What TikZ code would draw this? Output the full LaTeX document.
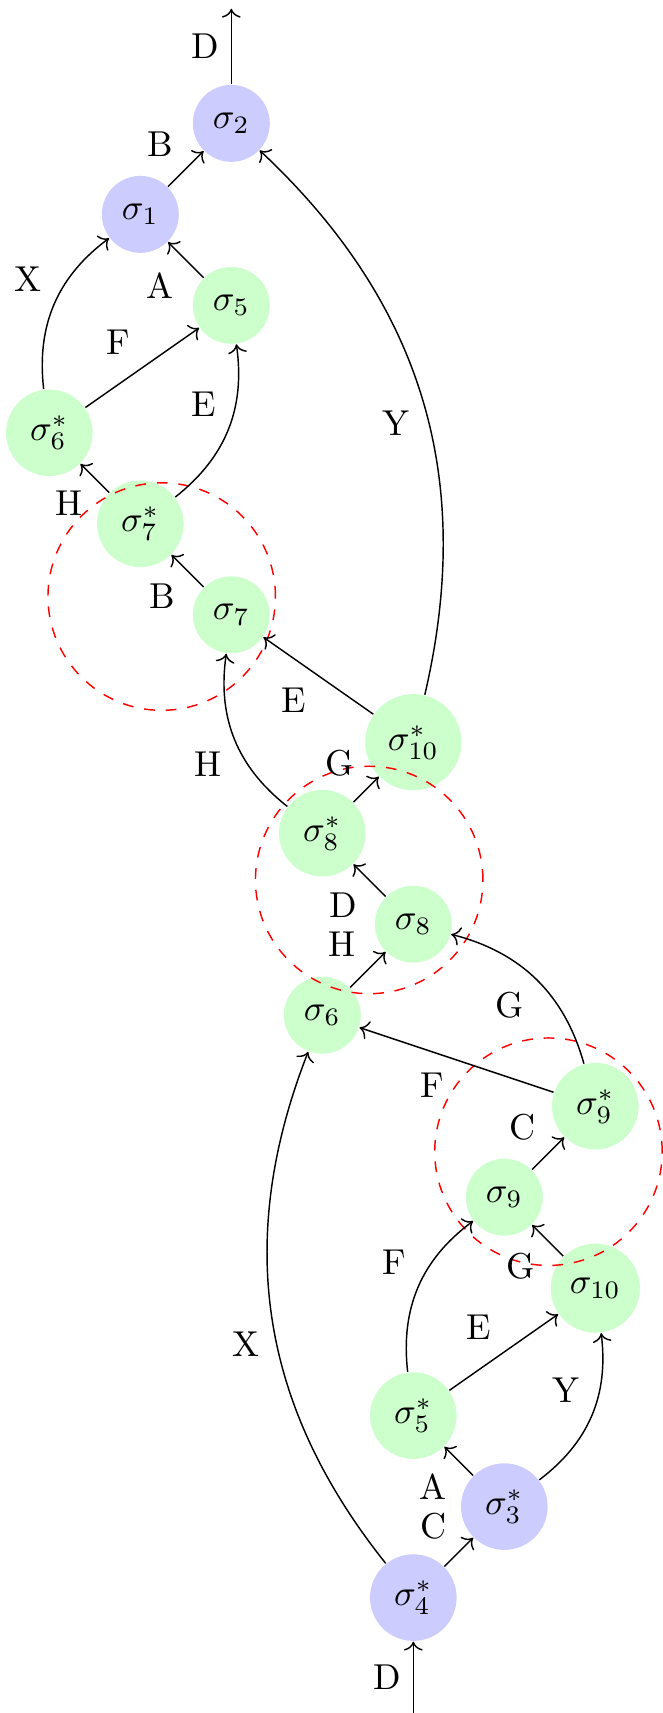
\documentclass[tikz,border=0pt]{standalone}
\usepackage{amsmath,amssymb}
\usepackage{tikz}
\usetikzlibrary{arrows.meta,positioning,calc}

\begin{document}
\begin{tikzpicture}[
    state/.style={circle, inner sep=3.5pt},
    bstate/.style={state, fill=blue!20},
    gstate/.style={state, fill=green!20},
    flow/.style={->},
    grp/.style={draw=red, dashed},
    x=0.8885cm, y=0.8885cm
]
\useasboundingbox (-4.542,-1.268) rectangle (2.733,17.556);

% --- States ---
\node[bstate] (s4s)  at (0,0)     {$\sigma_4^*$};
\node[bstate] (s3s)  at (1,1)     {$\sigma_3^*$};
\node[gstate] (s5s)  at (0,2)     {$\sigma_5^*$};
\node[gstate] (s10)  at (2,3.4)   {$\sigma_{10}$};
\node[gstate] (s9)   at (1,4.4)   {$\sigma_9$};
\node[gstate] (s9s)  at (2,5.4)   {$\sigma_9^*$};
\node[gstate] (s6)   at (-1,6.4)  {$\sigma_6$};
\node[gstate] (s8)   at (0,7.4)   {$\sigma_8$};
\node[gstate] (s8s)  at (-1,8.4)  {$\sigma_8^*$};
\node[gstate] (s10s) at (0,9.4)   {$\sigma_{10}^*$};
\node[gstate] (s7)   at (-2,10.8) {$\sigma_7$};
\node[gstate] (s7s)  at (-3,11.8) {$\sigma_7^*$};
\node[gstate] (s6s)  at (-4,12.8) {$\sigma_6^*$};
\node[gstate] (s5)   at (-2,14.2) {$\sigma_5$};
\node[bstate] (s1)   at (-3,15.2) {$\sigma_1$};
\node[bstate] (s2)   at (-2,16.2) {$\sigma_2$};

\coordinate (in)  at (0,-1.268);
\coordinate (out) at (-2,17.46);

% --- Groups ---
\draw[grp] (-2.765,11.0) circle (1.25);
\draw[grp] (-0.485,7.886) circle (1.25);
\draw[grp] (1.485,4.9) circle (1.25);

% --- Transitions ---
\draw[flow] (in) -- node[auto] {D} (s4s);
\draw[flow] (s4s) -- node[auto] {C} (s3s);
\draw[flow] (s3s) -- node[auto] {A} (s5s);
\draw[flow] (s3s) to[bend right] node[auto] {Y} (s10);
\draw[flow] (s5s) -- node[auto] {E} (s10);
\draw[flow] (s5s) to[bend left] node[auto] {F} (s9);
\draw[flow] (s10) -- node[auto] {G} (s9);
\draw[flow] (s9) -- node[auto] {C} (s9s);
\draw[flow] (s9s) -- node[auto] {F} (s6);
\draw[flow] (s9s) to[bend right] node[auto] {G} (s8);
\draw[flow] (s4s) to[bend left] node[auto] {X} (s6);
\draw[flow] (s6) -- node[auto] {H} (s8);
\draw[flow] (s8) -- node[auto] {D} (s8s);
\draw[flow] (s8s) -- node[auto] {G} (s10s);
\draw[flow] (s8s) to[bend left] node[auto] {H} (s7);
\draw[flow] (s10s) -- node[auto] {E} (s7);
\draw[flow] (s10s) to[bend right] node[auto] {Y} (s2);
\draw[flow] (s7) -- node[auto] {B} (s7s);
\draw[flow] (s7s) -- node[auto] {H} (s6s);
\draw[flow] (s7s) to[bend right] node[auto] {E} (s5);
\draw[flow] (s6s) -- node[auto] {F} (s5);
\draw[flow] (s6s) to[bend left] node[auto] {X} (s1);
\draw[flow] (s5) -- node[auto] {A} (s1);
\draw[flow] (s1) -- node[auto] {B} (s2);
\draw[flow] (s2) -- node[auto] {D} (out);

\end{tikzpicture}
\end{document}
